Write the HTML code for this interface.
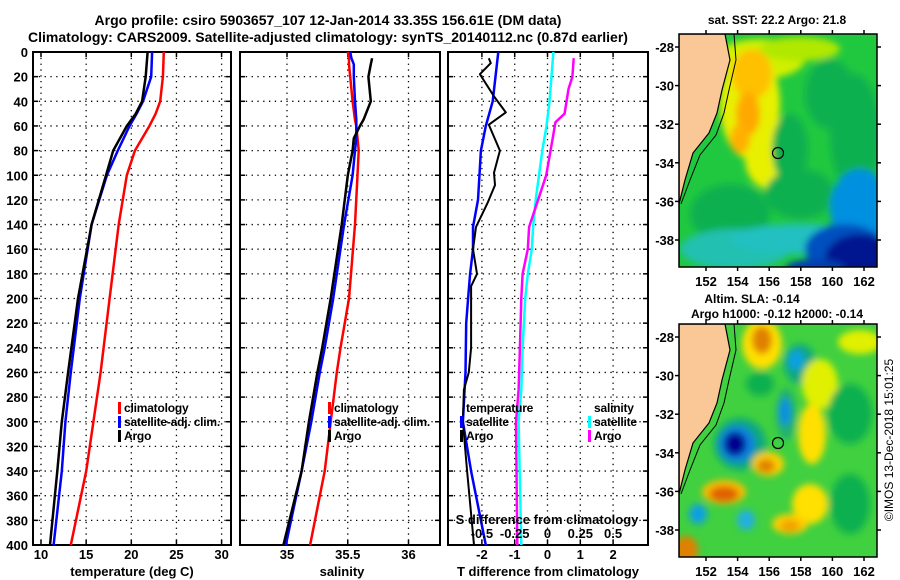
<!DOCTYPE html>
<html><head><meta charset="utf-8">
<style>
html,body{margin:0;padding:0;background:#fff;}
svg{display:block;font-family:"Liberation Sans",Arial,sans-serif;font-weight:bold;}
text{fill:#000;}
</style></head>
<body>
<svg id="chart" width="900" height="580" viewBox="0 0 900 580" xmlns="http://www.w3.org/2000/svg">
<defs>
<filter id="blur6" x="-50%" y="-50%" width="200%" height="200%"><feGaussianBlur stdDeviation="3.5"/></filter>
<clipPath id="clipTop"><rect x="679" y="34" width="198" height="233"/></clipPath>
<clipPath id="clipBot"><rect x="679" y="324" width="198" height="233"/></clipPath>
</defs>
<text x="328" y="25" font-size="14" text-anchor="middle">Argo profile: csiro 5903657_107 12-Jan-2014 33.35S 156.61E (DM data)</text>
<text x="328" y="42" font-size="14" text-anchor="middle">Climatology: CARS2009. Satellite-adjusted climatology: synTS_20140112.nc (0.87d earlier)</text>
<g id="plots"></g>
<g id="maps"></g>
<text transform="translate(893,440) rotate(-90)" font-size="12" text-anchor="middle" style="font-weight:normal">©IMOS 13-Dec-2018 15:01:25</text>
</svg>
<script>
// ---- data ----
const depthTicks = [0,20,40,60,80,100,120,140,160,180,200,220,240,260,280,300,320,340,360,380,400];
const tempTicks = [10,15,20,25,30];
const salTicks = [35,35.5,36];
const salTickLabels = ["35","35.5","36"];
const tdiffTicks = [-2,-1,0,1,2];
const sdiffTicks = [-0.5,-0.25,0,0.25,0.5];
const sdiffTickLabels = ["-0.5","-0.25","0","0.25","0.5"];

const tempDepths = [0,20,40,50,60,80,100,140,200,260,300,340,400];
const tempArgo   = [21.8,21.6,21.2,20.5,19.5,18.0,17.2,15.6,14.1,13.0,12.3,11.8,11.0];
const tempSat    = [22.3,22.2,21.3,20.6,19.8,18.5,17.3,15.6,14.3,13.3,12.7,12.3,11.4];
const tempClim   = [23.6,23.5,23.2,22.7,22.0,20.4,19.5,18.6,17.6,16.6,15.8,15.0,13.3];

const salDepths = [0,5,10,20,40,55,60,70,80,100,140,200,240,260,300,340,400];
const salArgo = [null,35.70,35.69,35.67,35.69,35.63,35.60,35.55,35.54,35.50,35.45,35.36,35.29,35.25,35.18,35.12,34.97];
const salSat  = [35.52,35.53,35.55,35.55,35.56,35.57,35.57,35.57,35.56,35.54,35.47,35.38,35.31,35.27,35.20,35.12,34.99];
const salClim = [35.50,35.51,35.51,35.52,35.54,35.56,35.57,35.58,35.59,35.58,35.56,35.51,35.44,35.41,35.36,35.31,35.19];

const tdDepthsArgo = [5,9,18,36,49,59,80,98,108,122,142,160,180,190,200,240,260,274,300,340,400];
const tdArgo = [-1.79,-1.73,-2.06,-1.63,-1.27,-1.79,-1.45,-1.63,-1.6,-1.82,-2.18,-2.27,-2.15,-2.33,-2.33,-2.33,-2.4,-2.55,-2.58,-2.45,-2.24];
const tdDepthsSat = [0,40,60,80,120,142,160,180,200,220,260,300,340,400];
const tdSat = [-1.5,-1.67,-1.88,-2.03,-2.12,-2.27,-2.27,-2.36,-2.42,-2.48,-2.5,-2.58,-2.33,-1.88];
const sdDepthsSat = [0,40,60,80,120,142,160,180,200,240,274,300,400];
const sdSat = [0.045,0.015,-0.008,-0.04,-0.09,-0.11,-0.12,-0.15,-0.17,-0.19,-0.2,-0.22,-0.2];
const sdDepthsArgo = [5,20,30,50,57,70,100,142,160,180,200,240,274,300,400];
const sdArgo = [0.2,0.19,0.16,0.13,0.06,0.04,-0.01,-0.14,-0.15,-0.19,-0.2,-0.21,-0.22,-0.24,-0.23];

// ---- helpers ----
const NS = "http://www.w3.org/2000/svg";
const plots = document.getElementById('plots');
function mk(tag, attrs, parent){const e=document.createElementNS(NS,tag);for(const k in attrs)e.setAttribute(k,attrs[k]);(parent||plots).appendChild(e);return e;}
const yTop=52, yBot=545;
const yD = d => yTop + (d/400)*(yBot-yTop);

function panel(x0,x1,xScale,xt,xtLabels,name,yLabels){
  const g=mk('g',{});
  
  
  depthTicks.forEach((d,i)=>{ if(i>0&&i<depthTicks.length-1){const l=mk('line',{x1:x0,x2:x1,y1:yD(d),y2:yD(d),stroke:'#000','stroke-width':1.3,'stroke-dasharray':'1.3 4.5'},g);
    
    }
    mk('line',{x1:x0,x2:x0+5,y1:yD(d),y2:yD(d),stroke:'#000','stroke-width':1.5},g);
    mk('line',{x1:x1-5,x2:x1,y1:yD(d),y2:yD(d),stroke:'#000','stroke-width':1.5},g);
    if(yLabels){const t=mk('text',{x:x0-5,y:yD(d)+5,'font-size':13,'text-anchor':'end'},g);t.textContent=d;
      
      }
  });
  xt.forEach((v,i)=>{const X=xScale(v);
    const l=mk('line',{x1:X,x2:X,y1:yTop,y2:yBot,stroke:'#000','stroke-width':1.3,'stroke-dasharray':'1.3 4.5'},g);
    
    
    mk('line',{x1:X,x2:X,y1:yBot-5,y2:yBot,stroke:'#000','stroke-width':1.5},g);
    mk('line',{x1:X,x2:X,y1:yTop,y2:yTop+5,stroke:'#000','stroke-width':1.5},g);
    const t=mk('text',{x:X,y:yBot+14,'font-size':13,'text-anchor':'middle'},g);t.textContent=xtLabels[i];
    
    
  });
  mk('rect',{x:x0,y:yTop,width:x1-x0,height:yBot-yTop,fill:'none',stroke:'#000','stroke-width':2},g);
  return g;
}
function series(depths,vals,xScale,color,name,w){
  let d='';let started=false;
  depths.forEach((dep,i)=>{const v=vals[i]; if(v===null)return; d+=(started?'L':'M')+xScale(v).toFixed(1)+','+yD(dep).toFixed(1); started=true;});
  const p=mk('path',{d:d,fill:'none',stroke:color,'stroke-width':w||2.5,'stroke-linejoin':'round'});
  
  
}
function legend(x,y,items,parentName){
  items.forEach((it,i)=>{
    const yy=y+i*14;
    if(it.c){const m=mk('rect',{x:x,y:yy-10,width:3,height:12,fill:it.c});
      
      }
    const t=mk('text',{x:x+6,y:yy,'font-size':12,'letter-spacing':'-0.2'});t.textContent=it.t;
    
    
  });
}

// panel 1 temperature
const xT = v => 41 + (v-10)*9.03;
panel(33,231,xT,tempTicks,tempTicks.map(String),'temperature-panel',true);
series(tempDepths,tempClim,xT,'#ff0000','temp-climatology-line');
series(tempDepths,tempSat,xT,'#0000ff','temp-satellite-line');
series(tempDepths,tempArgo,xT,'#000000','temp-argo-line');
legend(118,412,[{c:'#f00',t:'climatology'},{c:'#00f',t:'satellite-adj. clim.'},{c:'#000',t:'Argo'}],'temp-legend');
let t1=mk('text',{x:132,y:576,'font-size':13,'text-anchor':'middle'});t1.textContent='temperature (deg C)';



// panel 2 salinity
const xS = v => 287 + (v-35)*121.5;
panel(240,440,xS,salTicks,salTickLabels,'salinity-panel',false);
series(salDepths,salClim,xS,'#ff0000','sal-climatology-line');
series(salDepths,salSat,xS,'#0000ff','sal-satellite-line');
series(salDepths,salArgo,xS,'#000000','sal-argo-line');
legend(328,412,[{c:'#f00',t:'climatology'},{c:'#00f',t:'satellite-adj. clim.'},{c:'#000',t:'Argo'}],'sal-legend');
let t2=mk('text',{x:342,y:576,'font-size':13,'text-anchor':'middle'});t2.textContent='salinity';



// panel 3 differences
const xTD = v => 547.5 + v*32.8;
const xSD = v => 547.5 + v*131.2;
panel(448,648,xTD,tdiffTicks,tdiffTicks.map(String),'difference-panel',false);
series(sdDepthsSat,sdSat,xSD,'#00ffff','sdiff-satellite-line');
series(sdDepthsArgo,sdArgo,xSD,'#ff00ff','sdiff-argo-line');
series(tdDepthsSat,tdSat,xTD,'#0000ff','tdiff-satellite-line');
series(tdDepthsArgo,tdArgo,xTD,'#000000','tdiff-argo-line',2);
legend(460,412,[{c:null,t:'temperature'},{c:'#00f',t:'satellite'},{c:'#000',t:'Argo'}],'tdiff-legend');
legend(588,412,[{c:null,t:'salinity'},{c:'#0ff',t:'satellite'},{c:'#f0f',t:'Argo'}],'sdiff-legend');
sdiffTicks.forEach((v,i)=>{const t=mk('text',{x:xSD(v),y:538,'font-size':13,'text-anchor':'middle'});t.textContent=sdiffTickLabels[i];
  
  });
let t3=mk('text',{x:547,y:524,'font-size':13,'text-anchor':'middle'});t3.textContent='S difference from climatology';


let t4=mk('text',{x:548,y:576,'font-size':13,'text-anchor':'middle'});t4.textContent='T difference from climatology';



// ---- maps ----
const maps=document.getElementById('maps');
function mm(tag,attrs,parent){const e=document.createElementNS(NS,tag);for(const k in attrs)e.setAttribute(k,attrs[k]);(parent||maps).appendChild(e);return e;}
const lonTicks=[152,154,156,158,160,162];
const latTicks=[-28,-30,-32,-34,-36,-38];
const coast=[[725,0],[730,26],[722,56],[717,79],[709,99],[693,119],[685,146],[680,166],[679,170]];
const shelf=[[734,0],[736,26],[729,56],[724,79],[716,101],[700,121],[690,146],[681,170]];
function drawMap(oy,clipId,blobs,base,name,titles){
  const g=mm('g',{});
  
  
  const c=mm('g',{'clip-path':'url(#'+clipId+')'},g);
  mm('rect',{x:679,y:oy,width:198,height:233,fill:base},c);
  const bg=mm('g',{filter:'url(#blur6)'},c);
  blobs.forEach(b=>mm('ellipse',{cx:b[0],cy:oy+b[1],rx:b[2],ry:b[3],fill:b[4]},bg));
  let lp='M679,'+oy; coast.forEach(p=>lp+='L'+p[0]+','+(oy+p[1])); lp+='L679,'+(oy+233)+'Z';
  mm('path',{d:lp,fill:'#f9c896',stroke:'#000','stroke-width':1.2},c);
  let sp='M'+shelf.map(p=>p[0]+','+(oy+p[1])).join('L');
  mm('path',{d:sp,fill:'none',stroke:'#000','stroke-width':1},c);
  const circ=mm('circle',{cx:778,cy:oy+119,r:5.5,fill:'none',stroke:'#000','stroke-width':1.2},g);
  
  
  mm('rect',{x:679,y:oy,width:198,height:233,fill:'none',stroke:'#000','stroke-width':1.5},g);
  lonTicks.forEach(l=>{const X=706+(l-152)*15.8;
    mm('line',{x1:X,x2:X,y1:oy-4,y2:oy,stroke:'#000','stroke-width':1.5},g);
    mm('line',{x1:X,x2:X,y1:oy+233,y2:oy+237,stroke:'#000','stroke-width':1.5},g);
    const t=mm('text',{x:X,y:oy+252,'font-size':13,'text-anchor':'middle'},g);t.textContent=l;
    
    });
  latTicks.forEach(l=>{const Y=oy+13+(-28-l)*19.3;
    mm('line',{x1:675,x2:679,y1:Y,y2:Y,stroke:'#000','stroke-width':1.5},g);
    mm('line',{x1:877,x2:881,y1:Y,y2:Y,stroke:'#000','stroke-width':1.5},g);
    const t=mm('text',{x:674,y:Y+5,'font-size':13,'text-anchor':'end'},g);t.textContent=l;
    
    });
  titles.forEach(tt=>{const t=mm('text',{x:tt[0],y:tt[1],'font-size':12,'text-anchor':'middle'},g);t.textContent=tt[2];
    
    });
}
drawMap(34,'clipTop',[
  [760,25,45,20,'#d0f000'],
  [800,15,40,12,'#b0e800'],
  [750,70,30,55,'#e8f000'],
  [770,125,25,30,'#e8f000'],
  [745,175,22,10,'#e0f000'],
  [752,40,20,25,'#ffc000'],
  [748,80,12,22,'#ffa800'],
  [740,105,10,15,'#ffb000'],
  [830,60,25,35,'#10b050'],
  [855,100,25,60,'#10b050'],
  [790,115,18,35,'#10b050'],
  [800,160,35,25,'#10b050'],
  [730,180,40,30,'#10b050'],
  [735,215,55,20,'#20c0b0'],
  [800,205,70,15,'#20c0c0'],
  [860,175,30,40,'#0090e0'],
  [845,215,40,25,'#0050c0'],
  [860,225,35,25,'#001890'],
  [815,235,30,10,'#0040b0']
],'#20c840','sst-map',[[777,24,'sat. SST: 22.2 Argo: 21.8']]);
drawMap(324,'clipBot',[
  [762,20,20,25,'#ffe000'],
  [762,16,10,14,'#e08000'],
  [800,40,16,20,'#10a880'],
  [796,36,8,10,'#10a0e0'],
  [820,60,18,25,'#e0f000'],
  [786,90,10,26,'#20b070'],
  [785,88,6,14,'#1090e0'],
  [740,120,26,26,'#10a880'],
  [737,120,18,18,'#1080e0'],
  [735,120,11,12,'#000090'],
  [768,140,16,12,'#ffd000'],
  [766,142,9,7,'#e08000'],
  [812,110,14,30,'#ffe000'],
  [810,180,18,20,'#ffe000'],
  [724,168,22,12,'#ffc000'],
  [724,170,15,8,'#e06000'],
  [790,200,18,10,'#ffd000'],
  [790,202,10,6,'#f0a000'],
  [850,90,22,30,'#10b050'],
  [850,180,20,30,'#10b050'],
  [686,226,12,14,'#e08000'],
  [698,190,9,10,'#10a0e0'],
  [746,196,9,10,'#20b0e0'],
  [860,18,22,12,'#e0f000'],
  [760,60,14,12,'#10b050']
],'#40d040','sla-map',[[752,303,'Altim. SLA: -0.14'],[777,318,'Argo h1000: -0.12 h2000: -0.14']]);
</script>
</body></html>
